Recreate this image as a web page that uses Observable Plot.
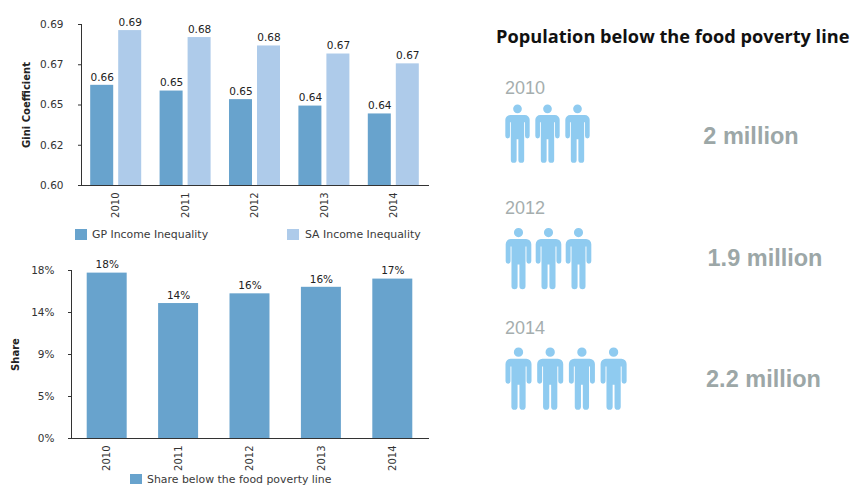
<!DOCTYPE html>
<html>
<head>
<meta charset="utf-8">
<script src="https://cdn.jsdelivr.net/npm/d3@7"></script>
<script src="https://cdn.jsdelivr.net/npm/@observablehq/plot@0.6"></script>
<style>
  html, body { margin: 0; padding: 0; background: #fff; }
  #page { position: relative; width: 853px; height: 485px; overflow: hidden; background: #fff; }
  #page > svg, .abs { position: absolute; }
  .legend { font: 10.9px "DejaVu Sans", sans-serif; color: #3a3a3a; white-space: nowrap; line-height: 12px; }
  .swatch { width: 12px; height: 11px; }
  .head { font: bold 18.2px "Open Sans", sans-serif; color: #111; white-space: nowrap; line-height: 22px; }
  .rowYear { font: 18px "Liberation Sans", sans-serif; color: #a5aeae; line-height: 20px; }
  .rowValue { font: bold 23.5px "Liberation Sans", sans-serif; color: #9ca7a7; line-height: 28px; white-space: nowrap; transform: translateX(-50%); }
</style>
</head>
<body>
<div id="page"></div>
<script>
// Income inequality by year
const years = ["2010", "2011", "2012", "2013", "2014"];
const gpGini = [0.656, 0.6528, 0.648, 0.6444, 0.64];
const saGini = [0.6866, 0.6827, 0.678, 0.6735, 0.668];
const giniTicks = [0.6, 0.6225, 0.645, 0.6675, 0.69];
const giniTickLabels = ["0.60", "0.62", "0.65", "0.67", "0.69"];

// Share of people below the food poverty line
const povertyShare = [17.72, 14.46, 15.5, 16.2, 17.08];
const shareTicks = [0, 4.5, 9, 13.5, 18];
const shareTickLabels = ["0%", "5%", "9%", "14%", "18%"];

// Headcount panel
const headcountYears = ["2010", "2012", "2014"];
const headcountMillions = ["2", "1.9", "2.2"];
const headcountIcons = [3, 3, 4];

const GP_BLUE = "#68a3cd";
const SA_BLUE = "#aecbea";
const ICON_BLUE = "#8fcbf0";
const INK = "#333";
const page = document.getElementById("page");

const chartStyle = {fontFamily: "'DejaVu Sans', sans-serif", fontSize: "10.5px", color: "#333", background: "transparent", overflow: "visible"};

// Adds an absolutely placed HTML element to the page.
function place(cls, text, left, top, extra = {}) {
  const el = document.createElement("div");
  el.className = "abs " + cls;
  el.textContent = text;
  el.style.left = left + "px";
  el.style.top = top + "px";
  Object.assign(el.style, extra);
  page.appendChild(el);
}

function placeChart(svg, left, top) {
  svg.style.left = left + "px";
  svg.style.top = top + "px";
  page.appendChild(svg);
}

// Rotated bold title beside the y axis.
const yTitle = (text, dx) => Plot.text([text], {
  frameAnchor: "left", textAnchor: "middle", rotate: -90, dx, fontWeight: "bold", fontSize: 10, fill: "#222"
});

/* Grouped Gini bars */
const giniRows = years.map((year, i) => ({year, gp: gpGini[i], sa: saGini[i]}));
const groupOffset = 14;
const barSpan = 28;
placeChart(Plot.plot({
  width: 440, height: 245,
  marginLeft: 81, marginRight: 12, marginTop: 24, marginBottom: 60,
  style: chartStyle,
  x: {domain: years, padding: 0.265, paddingOuter: 0.1325, align: 0.5, round: false},
  y: {domain: [0.6, 0.69]},
  marks: [
    Plot.barY(giniRows, {x: "year", y1: 0.6, y2: "gp", fill: GP_BLUE, insetRight: barSpan}),
    Plot.barY(giniRows, {x: "year", y1: 0.6, y2: "sa", fill: SA_BLUE, insetLeft: barSpan}),
    Plot.text(giniRows, {x: "year", y: "gp", text: d => d3.format(".2f")(d.gp), dx: -groupOffset, dy: -8, fill: "#222"}),
    Plot.text(giniRows, {x: "year", y: "sa", text: d => d3.format(".2f")(d.sa), dx: groupOffset, dy: -8, fill: "#222"}),
    Plot.axisY({ticks: giniTicks, tickFormat: (d, i) => giniTickLabels[i], tickSize: 3, tickPadding: 15, label: null, stroke: INK}),
    Plot.axisX({tickRotate: -90, tickSize: 0, tickPadding: 7, label: null, fontSize: 10}),
    Plot.frame({anchor: "left", stroke: INK}),
    Plot.frame({anchor: "bottom", stroke: INK}),
    yTitle("Gini Coefficient", -55)
  ]
}), 0, 0);

place("swatch", "", 75, 229, {background: GP_BLUE});
place("legend", "GP Income Inequality", 92, 229);
place("swatch", "", 287, 229, {background: SA_BLUE});
place("legend", "SA Income Inequality", 305, 229);

/* Poverty share bars */
const shareRows = years.map((year, i) => ({year, share: povertyShare[i]}));
placeChart(Plot.plot({
  width: 440, height: 240,
  marginLeft: 71, marginRight: 12, marginTop: 25, marginBottom: 47,
  style: chartStyle,
  x: {domain: years, padding: 0.44, paddingOuter: 0.22, align: 0.5, round: false},
  y: {domain: [0, 18]},
  marks: [
    Plot.barY(shareRows, {x: "year", y: "share", fill: GP_BLUE}),
    Plot.text(shareRows, {x: "year", y: "share", text: d => d3.format(".0f")(d.share) + "%", dy: -8, fill: "#222"}),
    Plot.axisY({ticks: shareTicks, tickFormat: (d, i) => shareTickLabels[i], tickSize: 3, tickPadding: 14, label: null, stroke: INK}),
    Plot.axisX({tickRotate: -90, tickSize: 0, tickPadding: 7, label: null, fontSize: 10}),
    Plot.frame({anchor: "left", stroke: INK}),
    Plot.frame({anchor: "bottom", stroke: INK}),
    yTitle("Share", -56)
  ]
}), 0, 245);

place("swatch", "", 130, 474, {background: GP_BLUE, height: "10px"});
place("legend", "Share below the food poverty line", 147, 474);

/* Headcount pictograms */
// Person glyph in units of half its height, centred on the origin.
const person = {
  draw(ctx, size) {
    const u = Math.sqrt(size / Math.PI);
    const p = v => v * u;
    ctx.moveTo(p(0.15), p(-0.85));
    ctx.arc(0, p(-0.85), p(0.15), 0, 2 * Math.PI);
    ctx.moveTo(p(-0.25), p(-0.64));
    ctx.lineTo(p(0.25), p(-0.64));
    ctx.arcTo(p(0.42), p(-0.64), p(0.42), p(-0.47), p(0.17));
    ctx.lineTo(p(0.42), p(0.09));
    ctx.arc(p(0.34), p(0.09), p(0.08), 0, Math.PI);
    ctx.lineTo(p(0.26), p(-0.39));
    ctx.lineTo(p(0.23), p(-0.39));
    ctx.lineTo(p(0.23), p(0.91));
    ctx.arc(p(0.13), p(0.91), p(0.1), 0, Math.PI);
    ctx.lineTo(p(0.03), p(0.2));
    ctx.lineTo(p(-0.03), p(0.2));
    ctx.lineTo(p(-0.03), p(0.91));
    ctx.arc(p(-0.13), p(0.91), p(0.1), 0, Math.PI);
    ctx.lineTo(p(-0.23), p(-0.39));
    ctx.lineTo(p(-0.26), p(-0.39));
    ctx.lineTo(p(-0.26), p(0.09));
    ctx.arc(p(-0.34), p(0.09), p(0.08), 0, Math.PI);
    ctx.lineTo(p(-0.42), p(-0.47));
    ctx.arcTo(p(-0.42), p(-0.64), p(-0.25), p(-0.64), p(0.17));
    ctx.closePath();
  }
};

place("head", "Population below the food poverty line", 496, 25);

// Vertical and horizontal placement of each headcount row.
const rowLayout = [
  {yearTop: 78, iconTop: 93, iconHalfHeight: 29, firstX: 27, stepX: 30, valueX: 751, valueTop: 122},
  {yearTop: 198, iconTop: 218, iconHalfHeight: 30.5, firstX: 28, stepX: 30, valueX: 765, valueTop: 244},
  {yearTop: 318, iconTop: 338, iconHalfHeight: 31, firstX: 28, stepX: 31.7, valueX: 763.5, valueTop: 365}
];

headcountYears.forEach((year, row) => {
  const layout = rowLayout[row];
  const positions = d3.range(1, headcountIcons[row] + 1);
  placeChart(Plot.plot({
    width: 363, height: 80,
    margin: 0,
    style: {background: "transparent", overflow: "visible"},
    x: {domain: [1, 4], range: [layout.firstX, layout.firstX + 3 * layout.stepX], axis: null},
    marks: [
      Plot.dot(positions, {x: d => d, r: layout.iconHalfHeight, symbol: person, fill: ICON_BLUE, stroke: "none"})
    ]
  }), 490, layout.iconTop);
  place("rowYear", year, 505, layout.yearTop);
  place("rowValue", headcountMillions[row] + " million", layout.valueX, layout.valueTop);
});
</script>
</body>
</html>
